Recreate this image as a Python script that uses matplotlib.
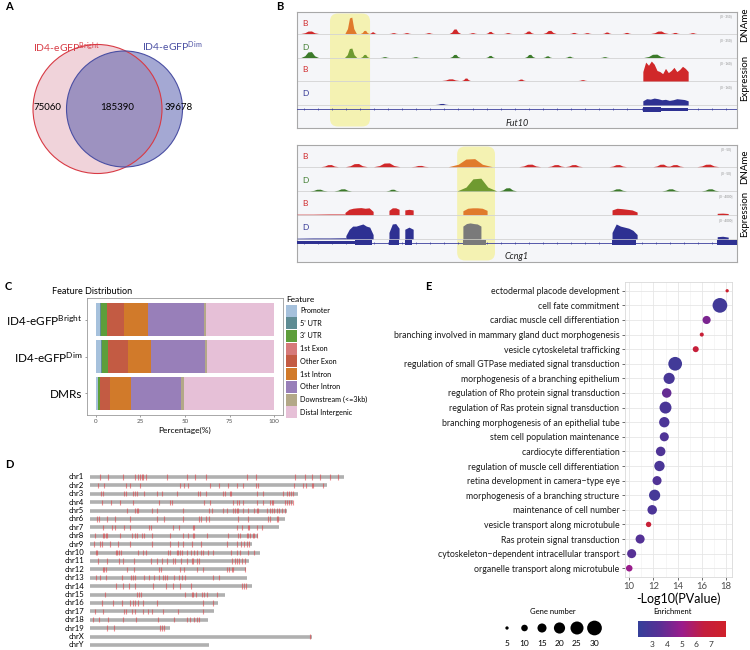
import matplotlib
matplotlib.use("Agg")
import matplotlib.pyplot as plt
import matplotlib.patches as mpatches
from matplotlib.colors import LinearSegmentedColormap, Normalize
import numpy as np

plt.rcParams["font.family"] = ["Lato", "DejaVu Sans"]
plt.rcParams["mathtext.fontset"] = "custom"
plt.rcParams["mathtext.rm"] = "Lato"
plt.rcParams["mathtext.it"] = "Lato:italic"
plt.rcParams["mathtext.bf"] = "Lato:bold"

W, H = 750, 650

# ── A: Venn counts (Bright only, shared, Dim only) ─────────────────────
VENN_COUNTS = [75060, 185390, 39678]

# ── B: browser tracks; x in % of locus, (centre, half-width, height) ──
FUT10_ME_B = [(3, 2, .12), (12.3, 1.3, .78), (15.5, 1, .15), (17.3, .8, .08),
              (22, 1, .04), (25, 1, .04), (30, 1, .04), (36, 1.3, .22),
              (40, 1, .04), (44, 1, .1), (48, 1, .04), (52.7, 1.2, .12),
              (57.5, 1.5, .15), (63, 1, .05), (66, 1, .04), (70.5, 1, .07),
              (75, 1, .05), (82.5, 2, .12), (86, 1, .05), (90, 1, .04)]
FUT10_ME_D = [(3, 2, .28), (12.3, 1.4, .45), (15.5, 1, .15), (20, 1, .04),
              (27, 1, .04), (36, 1.2, .15), (44, 1, .1), (53, 1.2, .15),
              (57, 1, .08), (62, 1, .06), (70, 1, .04), (81.4, 2.5, .16)]
FUT10_EX_B_PEAKS = [(35, 2, .08), (38.5, 1, .12), (51, 1, .07), (65, 1, .04)]
FUT10_EX_B_BLOCKS = [(78.6, 88.9, [.45, .9, .75, .95, .8, .5, .45, .35, .6,
                                   .4, .5, .65, .45, .55, .7, .6, .45])]
FUT10_EX_D_PEAKS = [(33, 1.5, .05)]
FUT10_EX_D_BLOCKS = [(78.6, 88.9, [.2, .3, .28, .33, .3, .25, .27, .22, .25,
                                   .3, .28, .26, .2])]
FUT10_EXONS = [(78.6, 82.7, 5), (82.7, 88.9, 3)]

CCNG1_ME_B = [(7.5, 2, .1), (13.6, 2.5, .15), (20.5, 3, .18), (28, 2, .06),
              (39.5, 5, .38), (53, 2.5, .12), (59, 2, .1), (63, 2, .1),
              (73, 2, .1), (83, 2, .12), (86, 2, .1), (93.5, 2.5, .12)]
CCNG1_ME_D = [(5, 2, .08), (10.5, 2, .1), (21.8, 1.5, .08), (41, 4.5, .6),
              (48, 2, .15), (73, 2, .1), (85, 2, .1), (94, 2, .1)]
CCNG1_EX_B_BLOCKS = [(0, 10.9, [.02, .02, .03, .03]),
                     (10.9, 17.3, [.1, .25, .3, .32, .33, .3, .32, .15]),
                     (20.9, 23.2, [.2, .32, .32, .25]),
                     (24.5, 26.4, [.22, .25, .22]),
                     (37.7, 43.2, [.18, .3, .32, .32, .3, .2]),
                     (71.6, 77.3, [.22, .3, .28, .25, .22, .12]),
                     (95.5, 98.0, [.06, .07, .05])]
CCNG1_EX_D_BLOCKS = [(0, 11.1, [.03, .04, .04, .05]),
                     (11.1, 17.3, [.15, .45, .6, .6, .65, .7, .6, .55, .2]),
                     (20.9, 23.2, [.3, .7, .72, .5]),
                     (24.5, 26.4, [.45, .55, .45]),
                     (37.7, 41.8, [.6, .72, .75, .72, .7, .6]),
                     (71.6, 77.3, [.3, .7, .6, .55, .5, .4, .2]),
                     (95.5, 98.0, [.1, .12, .08])]
CCNG1_EXONS = [(0, 13.2, 3), (13.2, 17.0, 5), (20.9, 23.2, 5), (24.5, 26.1, 5),
               (37.7, 43.0, 5), (71.6, 77.0, 5), (95.5, 100, 5)]

# ── C: feature distribution (%) ────────────────────────────────────────
FEATURES = ["Promoter", "5' UTR", "3' UTR", "1st Exon", "Other Exon",
            "1st Intron", "Other Intron", "Downstream (<=3kb)", "Distal Intergenic"]
FEATURE_COLORS = ["#a6c1dc", "#5e8c93", "#5e9e3b", "#d67a7a", "#c35b43",
                  "#d17a2a", "#987fb9", "#b3a888", "#e6c0d7"]
SAMPLES = [r"ID4-eGFP$^{\mathrm{Bright}}$", r"ID4-eGFP$^{\mathrm{Dim}}$", "DMRs"]
PCT_BRIGHT = [2.2, 0.75, 3.0, 0.3, 9.55, 13.3, 31.6, 1.3, 38.0]
PCT_DIM = [2.6, 0.55, 3.55, 0.35, 11.2, 12.9, 29.8, 1.3, 37.75]
PCT_DMR = [1.1, 0.2, 0.75, 0.2, 5.6, 11.8, 28.1, 1.7, 50.55]

# ── D: chromosomes (Mb) and DMR positions (Mb) ─────────────────────────
CHROMS = ["chr%d" % i for i in range(1, 20)] + ["chrX", "chrY"]
CHROM_LEN = [195.5, 182.1, 160.0, 156.5, 151.8, 149.7, 145.4, 129.4, 124.6,
             130.7, 122.1, 120.1, 120.4, 124.9, 104.0, 98.2, 95.0, 90.7, 61.4,
             171.0, 91.7]
DMR_POS = [
    [7.7, 14.1, 25.6, 34.6, 37.2, 38.5, 39.7, 41, 42.8, 59.5, 74.4, 80.8, 89.2,
     120.5, 127.7, 157.7, 165.4, 170.8, 176.9, 184.6, 190.8],
    [6.4, 10.8, 27.7, 30.8, 38.5, 69.2, 72.3, 75.6, 92.3, 99.5, 106.4, 112.8,
     117.4, 127.7, 129.5, 157.2, 163.6, 166.2, 170.5, 171.8, 179],
    [8.2, 10.3, 26.2, 27.7, 32.8, 34.6, 35.9, 41.5, 51.3, 55.6, 66.7, 82.8, 84.6,
     89.2, 102.1, 104.1, 107.7, 108.5, 128.2, 133.3, 148.7, 151.8, 153.3, 154.4, 155.9],
    [9, 16.2, 23.1, 33.3, 53.3, 61.5, 63.1, 87.9, 92.3, 110.3, 113.3, 114.9, 117.9,
     128.2, 133.3, 138.5, 139.7, 141, 150, 151.8, 153.1, 154.4, 155.9],
    [28.7, 34.6, 35.9, 37.2, 47.4, 51.8, 71.3, 91.8, 93.6, 102.1, 105.1, 110.3,
     111.5, 112.8, 114.1, 117.9, 121.8, 126.4, 128.2, 129.5, 135.9, 138.5, 139.7,
     141.5, 143.6, 145.6, 147.4, 150],
    [5.6, 7.2, 12.8, 19.2, 30.8, 51.3, 56.9, 71.3, 83.8, 85.1, 89.2, 91.8, 114.1,
     121.8, 137.2, 138.5, 143.6, 144.9],
    [10.3, 16.7, 19.2, 26.2, 30.8, 45.6, 46.7, 64.1, 68.5, 79, 80, 113.3, 116.7,
     121.8, 122.6, 128.2, 132.1],
    [3.8, 9.7, 10.8, 12.3, 13.3, 23.1, 32.1, 34.6, 35.9, 39.7, 41.5, 47.4, 61.5,
     71.3, 75.1, 79, 80, 89.7, 106.4, 114.1, 115.4, 120.5, 121.8, 123.1, 125.1,
     126.2, 128.2],
    [3.3, 7.7, 9.2, 15.4, 21.8, 30.8, 47.4, 61.5, 67.9, 71.3, 78.2, 85.1, 105.1,
     113.3, 115.9, 118.5, 120.5, 122.6],
    [4.6, 5.6, 20, 21, 22.1, 23.6, 37.2, 40.5, 43.1, 60.3, 61.5, 66.7, 67.9, 69.2,
     70.5, 74.4, 77.4, 80, 82.1, 85.1, 87.2, 91, 94.9, 108.2, 112.8, 115.4, 121.8,
     126.2],
    [6.4, 12.8, 22.6, 25.6, 33.8, 46.9, 51.3, 55.6, 59.5, 63.6, 65.4, 69.7, 74.4,
     78.2, 79.5, 82.1, 83.8, 109, 111.5, 113.3, 114.9, 116.7, 119.2],
    [9.7, 10.8, 12.3, 28.7, 33.8, 53.3, 54.9, 69.2, 72.3, 82.1, 86.7, 105.1,
     107.2, 109, 110.3, 119.2],
    [4.6, 7.7, 12.3, 24.4, 31.3, 33.3, 34.6, 41.5, 45.6, 49.2, 53.1, 56.4, 57.7,
     59.5, 64.6, 68.5, 70.5, 73.1, 94.4, 99.5],
    [20, 25.6, 30, 34.6, 48.2, 58.2, 64.1, 69.2, 77.7, 116.7, 118.5, 120],
    [11.5, 36.4, 37.9, 39.5, 73.1, 78.2, 79.5, 81.5, 85.9, 87.7, 89.7, 97.9],
    [9, 17.9, 24.4, 30.8, 32.8, 34.6, 37.2, 41, 51.8, 86.7, 94.9],
    [3.8, 10.3, 26.2, 27.7, 32.1, 34.6, 41, 44.9, 47.4, 56.4, 67.9, 87.2],
    [2.6, 6.9, 13.6, 25.6, 35.1, 52.6, 64.6, 74.4, 76.9, 80, 82.1, 84.1],
    [13.3, 18.7, 53.8, 55.6, 57.2],
    [169.2],
    [],
]

# ── E: GO enrichment ───────────────────────────────────────────────────
GO_TERMS = [
    "ectodermal placode development", "cell fate commitment",
    "cardiac muscle cell differentiation",
    "branching involved in mammary gland duct morphogenesis",
    "vesicle cytoskeletal trafficking",
    "regulation of small GTPase mediated signal transduction",
    "morphogenesis of a branching epithelium",
    "regulation of Rho protein signal transduction",
    "regulation of Ras protein signal transduction",
    "branching morphogenesis of an epithelial tube",
    "stem cell population maintenance", "cardiocyte differentiation",
    "regulation of muscle cell differentiation",
    "retina development in camera\u2212type eye",
    "morphogenesis of a branching structure", "maintenance of cell number",
    "vesicle transport along microtubule", "Ras protein signal transduction",
    "cytoskeleton\u2212dependent intracellular transport",
    "organelle transport along microtubule",
]
GO_LOGP = [18.1, 17.5, 16.4, 16.0, 15.5, 13.8, 13.3, 13.1, 13.0, 12.9, 12.9,
           12.6, 12.5, 12.3, 12.1, 11.9, 11.6, 10.9, 10.2, 10.0]
GO_COUNT = [5, 30, 13, 6, 9, 27, 20, 16, 22, 18, 15, 16, 18, 15, 20, 16, 8,
            15, 15, 10]
GO_ENRICH = [7.6, 2.6, 4.3, 7.0, 6.8, 2.6, 2.8, 3.8, 2.9, 3.0, 3.1, 3.1, 2.9,
             3.2, 2.7, 3.0, 7.0, 3.3, 3.4, 5.0]
SIZE_BREAKS = [5, 10, 15, 20, 25, 30]


def px_axes(fig, x0, y0, x1, y1):
    return fig.add_axes([x0 / W, 1 - y1 / H, (x1 - x0) / W, (y1 - y0) / H])


def dot_size(n):
    d = -4.57 + 3.52 * np.sqrt(np.asarray(n, float))  # diameter in px
    return (d * 0.72) ** 2


TRACK_BASE = [94, 70, 47, 23]
TRACK_H = 21
COL_B = "#d0282a"
COL_DME = "#3b7a2a"
COL_DEX = "#2e3192"
HL_COLS = {COL_B: "#e07a2c", COL_DME: "#6f9a30", COL_DEX: "#7a7a7a"}


def draw_locus(ax, hl, me_b, me_d, ex_b_peaks, ex_b_blocks, ex_d_peaks,
               ex_d_blocks, exons, name, ranges):
    ax.set_xlim(0, 100)
    ax.set_ylim(0, 116)
    ax.set_facecolor("#f5f6f9")
    ax.set_xticks([])
    ax.set_yticks([])
    for s in ax.spines.values():
        s.set_color("#a8a8a8")
        s.set_linewidth(0.8)
    ax.add_patch(mpatches.FancyBboxPatch(
        (hl[0], 1.5), hl[1] - hl[0], 113, boxstyle="round,pad=0,rounding_size=1.8",
        mutation_aspect=4.4, facecolor="#f4f2b2", edgecolor="none", zorder=1))

    def col(c, color):
        return HL_COLS[color] if hl[0] <= c <= hl[1] else color

    def bump(base, c, hw, h, color):
        xs = [c - hw, c - .55 * hw, c - .2 * hw, c + .2 * hw, c + .55 * hw, c + hw]
        ys = base + np.array([0, .3, .95, 1, .3, 0]) * h * TRACK_H
        ax.fill(xs, ys, color=col(c, color), lw=0, zorder=3)

    def block(base, x0, x1, hs, color):
        xs = np.linspace(x0, x1, len(hs))
        ax.fill_between(xs, base, base + np.array(hs) * TRACK_H,
                        color=col((x0 + x1) / 2, color), lw=0, zorder=3)

    for b in TRACK_BASE:
        ax.axhline(b, color="#d3d3d3", lw=0.6, zorder=2)
    for p in me_b:
        bump(TRACK_BASE[0], *p, COL_B)
    for p in me_d:
        bump(TRACK_BASE[1], *p, COL_DME)
    for p in ex_b_peaks:
        bump(TRACK_BASE[2], *p, COL_B)
    for bl in ex_b_blocks:
        block(TRACK_BASE[2], *bl, COL_B)
    for p in ex_d_peaks:
        bump(TRACK_BASE[3], *p, COL_DEX)
    for bl in ex_d_blocks:
        block(TRACK_BASE[3], *bl, COL_DEX)

    labels = [("B", COL_B), ("D", COL_DME), ("B", COL_B), ("D", COL_DEX)]
    for b, (t, c), r in zip(TRACK_BASE, labels, ranges):
        ax.text(1.1, b + 11, t, color=c, fontsize=6, va="center", zorder=4)
        ax.text(97.5, b + 18, r, color="#888888", fontsize=2.2, ha="center",
                va="center", zorder=4)

    gy = 19
    ax.axhline(gy, color="#3b3f9e", lw=0.6, zorder=3)
    marks = np.arange(1.5, 100, 3.2)
    ax.plot(marks, [gy] * len(marks), "|", color="#3b3f9e", ms=1.6, mew=0.5,
            zorder=3)
    for x0, x1, th in exons:
        ax.add_patch(mpatches.Rectangle(
            (x0, gy - th / 2), x1 - x0, th, lw=0, zorder=4,
            facecolor=col((x0 + x1) / 2, COL_DEX) if th > 4 else COL_DEX))
    ax.text(50, 5, name, fontsize=6.5, style="italic", ha="center",
            va="center", color="#222222", zorder=4)


def main():
    fig = plt.figure(figsize=(7.5, 6.5), dpi=100)
    ov = fig.add_axes([0, 0, 1, 1])
    ov.set_xlim(0, W)
    ov.set_ylim(H, 0)
    ov.axis("off")

    # panel letters
    for t, x, y in [("A", 5, 6), ("B", 276, 6), ("C", 5, 287), ("D", 5, 465),
                    ("E", 425, 287)]:
        ov.text(x, y, t, fontsize=8, fontweight="bold", va="center", ha="left")

    # ── A ────────────────────────────────────────────────────────────
    ov.add_patch(mpatches.Circle((97.5, 109), 64.5, facecolor="#f0d3da",
                                 edgecolor="none", zorder=1))
    ov.add_patch(mpatches.Circle((124.5, 109), 58, facecolor="#4b52a8",
                                 alpha=0.5, edgecolor="none", zorder=2))
    ov.add_patch(mpatches.Circle((97.5, 109), 64.5, facecolor="none",
                                 edgecolor="#d83a44", lw=0.8, zorder=3))
    ov.add_patch(mpatches.Circle((124.5, 109), 58, facecolor="none",
                                 edgecolor="#4a4fa3", lw=0.8, zorder=3))
    for x, n in zip([47, 117, 179], VENN_COUNTS):
        ov.text(x, 108, str(n), fontsize=7, ha="center", va="center", zorder=4)
    ov.text(67, 48, r"ID4-eGFP$^{\mathrm{Bright}}$", color="#d83a44",
            fontsize=7.5, ha="center", va="center")
    ov.text(172, 47, r"ID4-eGFP$^{\mathrm{Dim}}$", color="#4a4fa3",
            fontsize=7.5, ha="center", va="center")

    # ── B ────────────────────────────────────────────────────────────
    axb1 = px_axes(fig, 297, 12, 737, 128)
    draw_locus(axb1, (7.5, 16.6), FUT10_ME_B, FUT10_ME_D, FUT10_EX_B_PEAKS,
               FUT10_EX_B_BLOCKS, FUT10_EX_D_PEAKS, FUT10_EX_D_BLOCKS,
               FUT10_EXONS, "Fut10",
               ["[0 - 350]", "[0 - 350]", "[0 - 160]", "[0 - 160]"])
    axb2 = px_axes(fig, 297, 145, 737, 262)
    draw_locus(axb2, (36.4, 45.0), CCNG1_ME_B, CCNG1_ME_D, [],
               CCNG1_EX_B_BLOCKS, [], CCNG1_EX_D_BLOCKS, CCNG1_EXONS, "Ccng1",
               ["[0 - 50]", "[0 - 50]", "[0 - 4000]", "[0 - 4000]"])
    for t, y in [("DNAme", 25), ("Expression", 78), ("DNAme", 167),
                 ("Expression", 214)]:
        ov.text(745, y, t, rotation=90, fontsize=7, ha="center", va="center")

    # ── C ────────────────────────────────────────────────────────────
    axc = px_axes(fig, 87, 298, 283, 415)
    data = np.array([PCT_BRIGHT, PCT_DIM, PCT_DMR])
    left = np.zeros(len(SAMPLES))
    for j, (f, c) in enumerate(zip(FEATURES, FEATURE_COLORS)):
        axc.barh(range(len(SAMPLES)), data[:, j], left=left, height=0.9,
                 color=c, lw=0)
        left += data[:, j]
    axc.set_xlim(-5, 105)
    axc.set_ylim(2.6, -0.6)
    axc.set_yticks(range(len(SAMPLES)), SAMPLES, fontsize=8.5)
    axc.set_xticks([0, 25, 50, 75, 100])
    axc.tick_params(axis="x", labelsize=4.5, labelcolor="#555555", length=1.5,
                    width=0.4, pad=1.5, color="#555555")
    axc.tick_params(axis="y", length=1.5, width=0.4, pad=2, color="#555555")
    for s in axc.spines.values():
        s.set_color("#9a9a9a")
        s.set_linewidth(0.6)
    axc.set_xlabel("Percentage(%)", fontsize=6, labelpad=2)
    ov.text(52, 292, "Feature Distribution", fontsize=6.5, va="center")
    ov.text(286, 299, "Feature", fontsize=6, va="center")
    for i, (f, c) in enumerate(zip(FEATURES, FEATURE_COLORS)):
        y = 310.6 + i * 12.7
        ov.add_patch(mpatches.Rectangle((286, y - 6), 11, 12, facecolor=c,
                                        edgecolor="none"))
        ov.text(300, y, f, fontsize=5.2, va="center")

    # ── D ────────────────────────────────────────────────────────────
    axd = px_axes(fig, 90, 470, 350, 650)
    axd.set_xlim(0, 200)
    axd.set_ylim(20.6, -0.833)
    axd.axis("off")
    for i, (name, ln, pos) in enumerate(zip(CHROMS, CHROM_LEN, DMR_POS)):
        axd.hlines(i, 0, ln, color="#b0b0b0", lw=2.6)
        if pos:
            axd.vlines(pos, i - 0.32, i + 0.32, color="#e0353b", lw=0.8,
                       alpha=0.55)
        axd.text(-4.6, i, name, fontsize=5.6, ha="right", va="center")

    # ── E ────────────────────────────────────────────────────────────
    axe = px_axes(fig, 625, 282, 732, 577)
    cmap = LinearSegmentedColormap.from_list(
        "enr", ["#35409a", "#5a2f95", "#9b1c8c", "#c41f3e", "#d0212a"])
    norm = Normalize(2.05, 8.0)
    ys = np.arange(len(GO_TERMS))
    axe.scatter(GO_LOGP, ys, s=dot_size(GO_COUNT), c=GO_ENRICH, cmap=cmap,
                norm=norm, zorder=3, lw=0)
    axe.set_xlim(9.65, 18.5)
    axe.set_ylim(len(GO_TERMS) - 0.4, -0.6)
    axe.set_xticks([10, 12, 14, 16, 18])
    axe.set_xticks([11, 13, 15, 17], minor=True)
    axe.set_yticks(ys, GO_TERMS)
    axe.grid(True, which="major", color="#e6e6e6", lw=0.6, zorder=0)
    axe.grid(True, which="minor", axis="x", color="#f0f0f0", lw=0.4, zorder=0)
    axe.set_axisbelow(True)
    axe.tick_params(axis="y", labelsize=6.3, length=2, width=0.5, pad=2,
                    color="#333333", labelcolor="#1a1a1a")
    axe.tick_params(axis="x", labelsize=6.8, length=2, width=0.5, pad=1.5,
                    color="#333333", labelcolor="#4d4d4d")
    axe.tick_params(which="minor", length=0)
    for s in axe.spines.values():
        s.set_color("#d9d9d9")
        s.set_linewidth(0.6)
    axe.set_xlabel("-Log10(PValue)", fontsize=9, labelpad=1)

    # size legend
    ov.text(553, 612, "Gene number", fontsize=5.5, ha="center", va="center")
    sx = [507, 524.5, 542, 559.5, 577, 594.5]
    ov.scatter(sx, [628] * len(sx), s=dot_size(SIZE_BREAKS), color="black",
               lw=0)
    for x, n in zip(sx, SIZE_BREAKS):
        ov.text(x, 643, str(n), fontsize=6, ha="center", va="center")

    # colour bar
    axcb = px_axes(fig, 638, 621, 726, 637)
    grad = np.linspace(2.05, 8.0, 256)[None, :]
    axcb.imshow(grad, aspect="auto", cmap=cmap, norm=norm,
                extent=[2.05, 8.0, 0, 1])
    axcb.set_yticks([])
    axcb.set_xticks([3, 4, 5, 6, 7])
    axcb.tick_params(axis="x", labelsize=6, length=2, width=0.5, pad=1,
                     color="white", labelcolor="#333333")
    for s in axcb.spines.values():
        s.set_visible(False)
    ov.text(673, 612, "Enrichment", fontsize=5.5, ha="center", va="center")

    fig.savefig("out.png", dpi=100)


if __name__ == "__main__":
    main()
